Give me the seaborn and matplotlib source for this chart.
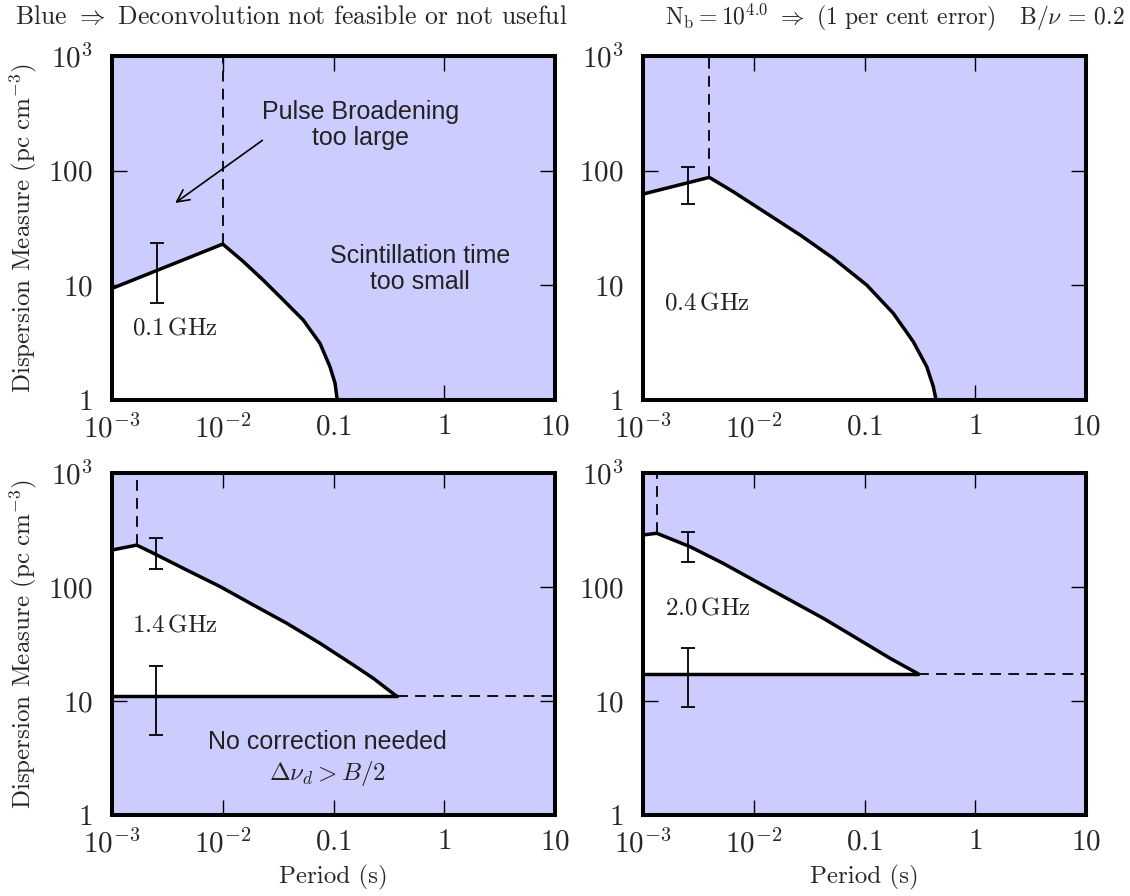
import matplotlib
matplotlib.use("Agg")
import matplotlib.pyplot as plt
import seaborn as sns
from matplotlib.ticker import FixedLocator, FixedFormatter, NullLocator

# ---------------- axis ticks ----------------
x_ticks = [1e-3, 1e-2, 0.1, 1, 10]
x_tick_labels = [r"$10^{-3}$", r"$10^{-2}$", r"$0.1$", r"$1$", r"$10$"]
y_ticks = [1, 10, 100, 1000]
y_tick_labels = [r"$1$", r"$10$", r"$100$", r"$10^3$"]

# ---------------- boundary curves (period in s, DM in pc cm^-3) ----------------
freq_labels = ["0.1", "0.4", "1.4", "2.0"]

period_01 = [0.001, 0.01, 0.01535, 0.0232, 0.0352, 0.0533, 0.0755, 0.0929, 0.1033, 0.108]
dm_01 = [9.4, 22.9, 16.1, 11.1, 7.45, 4.98, 3.12, 1.95, 1.40, 1.0]

period_04 = [0.001, 0.00397, 0.00653, 0.0131, 0.0262, 0.0523, 0.1047, 0.182, 0.276, 0.365, 0.418, 0.443]
dm_04 = [62.5, 87.4, 65.5, 42.4, 27.5, 17.2, 10.06, 5.70, 3.22, 1.95, 1.31, 1.0]

period_14 = [0.001, 0.00167, 0.00236, 0.00472, 0.00944, 0.0189, 0.0378, 0.0755, 0.151, 0.229, 0.372]
dm_14 = [211, 233, 198, 141, 101, 69.5, 48.1, 32.1, 20.7, 15.8, 11.0]

period_20 = [0.001, 0.00133, 0.00265, 0.00531, 0.01063, 0.0212, 0.0425, 0.0851, 0.17, 0.306]
dm_20 = [286, 296, 226, 161, 111, 76.9, 53.1, 35.5, 23.7, 17.3]

# lower bound of the usable region (no correction needed below it)
floor_dm = [1.0, 1.0, 11.0, 17.3]
has_floor_line = [False, False, True, True]

# scatter-broadening limit (vertical dashed line)
peak_period = [0.01, 0.00397, 0.00167, 0.00133]
peak_dm = [22.9, 87.4, 233, 296]

# ---------------- error bars ----------------
err_period = [0.00254, 0.00254, 0.00249, 0.00257]
err_mid_upper = [13.0, 75.0, 196.0, 226.0]
err_lo_upper = [7.0, 51.6, 144.0, 167.0]
err_hi_upper = [23.6, 108.0, 267.0, 305.0]
err_mid_lower = [None, None, 10.0, 16.1]
err_lo_lower = [None, None, 5.0, 8.86]
err_hi_lower = [None, None, 20.3, 29.4]

# frequency label anchors
label_period = [0.00152, 0.00154, 0.00151, 0.00158]
label_dm = [4.22, 6.97, 46.4, 65.0]

curves = [(period_01, dm_01), (period_04, dm_04), (period_14, dm_14), (period_20, dm_20)]

# ---------------- style ----------------
sns.set_theme(style="ticks")
plt.rcParams.update({
    "font.family": ["cmr10", "DejaVu Serif"],
    "mathtext.fontset": "cm",
    "axes.unicode_minus": False,
    "axes.formatter.use_mathtext": True,
    "axes.linewidth": 2.9,
    "axes.edgecolor": "black",
})

BLUE = "#ccccff"
SANS = "Liberation Sans"

fig = plt.figure(figsize=(11.3, 8.96), dpi=100)
W, H = 1130, 896
boxes = [
    (112, 56, 555, 400),
    (643, 56, 1086, 400),
    (112, 473, 555, 815),
    (643, 473, 1086, 815),
]

axes = []
for (l, t, r, b) in boxes:
    ax = fig.add_axes([l / W, 1 - b / H, (r - l) / W, (b - t) / H])
    axes.append(ax)

for i, ax in enumerate(axes):
    px, dm = curves[i]
    ax.set_xscale("log")
    ax.set_yscale("log")
    ax.set_xlim(1e-3, 10)
    ax.set_ylim(1, 1000)
    ax.set_facecolor(BLUE)

    # usable (white) region between the floor and the boundary curve
    ax.fill_between(px, dm, floor_dm[i], color="white", lw=0, zorder=1)

    sns.lineplot(x=px, y=dm, ax=ax, color="black", linewidth=2.5,
                 sort=False, estimator=None, zorder=4)

    # vertical dashed limit from the peak to the top
    sns.lineplot(x=[peak_period[i], peak_period[i]], y=[peak_dm[i], 1000], ax=ax,
                 color="black", linewidth=1.3, linestyle=(0, (6, 4)),
                 sort=False, estimator=None, zorder=3)

    if has_floor_line[i]:
        sns.lineplot(x=[1e-3, px[-1]], y=[floor_dm[i], floor_dm[i]], ax=ax,
                     color="black", linewidth=2.5, sort=False, estimator=None, zorder=4)
        sns.lineplot(x=[px[-1], 10], y=[floor_dm[i], floor_dm[i]], ax=ax,
                     color="black", linewidth=1.3, linestyle=(0, (6, 4)),
                     sort=False, estimator=None, zorder=3)

    ax.errorbar([err_period[i]], [err_mid_upper[i]],
                yerr=[[err_mid_upper[i] - err_lo_upper[i]], [err_hi_upper[i] - err_mid_upper[i]]],
                fmt="none", ecolor="black", elinewidth=1.3, capsize=5, capthick=1.3, zorder=5)
    if err_mid_lower[i] is not None:
        ax.errorbar([err_period[i]], [err_mid_lower[i]],
                    yerr=[[err_mid_lower[i] - err_lo_lower[i]], [err_hi_lower[i] - err_mid_lower[i]]],
                    fmt="none", ecolor="black", elinewidth=1.3, capsize=5, capthick=1.3, zorder=5)

    ax.text(label_period[i], label_dm[i], r"$%s\,\mathrm{GHz}$" % freq_labels[i],
            ha="left", va="center", fontsize=18, color="#222222", zorder=6)

    ax.xaxis.set_major_locator(FixedLocator(x_ticks))
    ax.xaxis.set_major_formatter(FixedFormatter(x_tick_labels))
    ax.yaxis.set_major_locator(FixedLocator(y_ticks))
    ax.yaxis.set_major_formatter(FixedFormatter(y_tick_labels))
    ax.xaxis.set_minor_locator(NullLocator())
    ax.yaxis.set_minor_locator(NullLocator())
    ax.tick_params(which="major", direction="in", length=11, width=1.0,
                   top=True, right=True, labelsize=21, color="black")
    ax.tick_params(axis="x", pad=10)
    ax.tick_params(axis="y", pad=14)
    for s in ax.spines.values():
        s.set_linewidth(2.9)
        s.set_zorder(10)
    ax.set_xlabel("")
    ax.set_ylabel("")

for ax in (axes[0], axes[2]):
    ax.set_ylabel(r"Dispersion Measure $(\mathrm{pc\ cm^{-3}})$", fontsize=18)
    ax.yaxis.set_label_coords(-0.165, 0.5)
for ax in (axes[2], axes[3]):
    ax.set_xlabel("Period (s)", fontsize=18)
    ax.xaxis.set_label_coords(0.5, -0.145)

# region annotations
ax = axes[0]
ax.text(0.177, 250, "Pulse Broadening\ntoo large", family=SANS, fontsize=18,
        ha="center", va="center", linespacing=1.1, color="#222222", zorder=6)
ax.annotate("", xy=(0.00355, 50.6), xytext=(0.0239, 190),
            arrowprops=dict(arrowstyle="->", color="black", lw=1.2,
                            mutation_scale=22), zorder=6)
ax.text(0.604, 14.0, "Scintillation time\ntoo small", family=SANS, fontsize=18,
        ha="center", va="center", linespacing=1.1, color="#222222", zorder=6)

ax = axes[2]
ax.text(0.088, 4.37, "No correction needed", family=SANS, fontsize=18,
        ha="center", va="center", color="#222222", zorder=6)
ax.text(0.088, 2.33, r"$\Delta\nu_d > B/2$", fontsize=18,
        ha="center", va="center", color="#222222", zorder=6)

fig.text(15 / W, 1 - 17 / H, r"Blue $\Rightarrow$ Deconvolution not feasible or not useful",
         ha="left", va="center", fontsize=18.5)
fig.text(1125 / W, 1 - 17 / H,
         r"$\mathrm{N_b} = 10^{4.0}$ $\Rightarrow$ (1 per cent error)   B/$\nu$ = 0.2",
         ha="right", va="center", fontsize=17)

fig.savefig("out.png", dpi=100)
